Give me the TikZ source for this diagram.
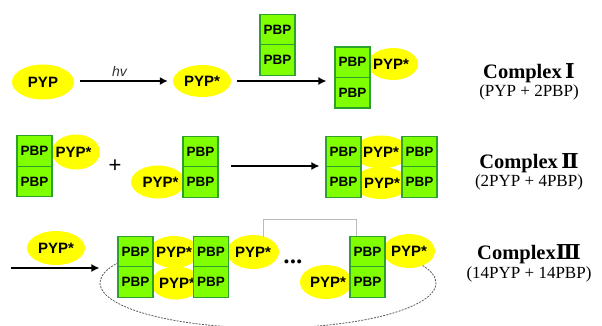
\documentclass[tikz,border=0pt]{standalone}
\usepackage{fontspec}
\setmainfont{Liberation Serif}
\setsansfont{Liberation Sans}
\newfontfamily\numfont{DejaVu Serif}
\usetikzlibrary{shapes.geometric,arrows.meta,calc}
\definecolor{pbpfill}{HTML}{80FF00}
\definecolor{pbpedge}{HTML}{2EA02E}
\definecolor{pypfill}{HTML}{FFFF00}
\definecolor{bracketgray}{HTML}{BBBBBB}
\begin{document}
\begin{tikzpicture}[x=1pt,y=-1pt,
  pbp/.style={rectangle, draw=pbpedge, line width=1.2pt, fill=pbpfill,
    minimum width=35pt, minimum height=30.5pt, inner sep=0pt,
    font=\sffamily\bfseries\fontsize{13.5}{15}\selectfont},
  pyp/.style={ellipse, fill=pypfill, inner sep=0pt,
    font=\sffamily\bfseries\fontsize{15}{16}\selectfont},
  arr/.style={-{Latex[length=8pt,width=8pt]}, line width=1.3pt},
  title/.style={anchor=base, font=\bfseries\fontsize{20.5}{24}\selectfont},
  subtitle/.style={anchor=base, font=\fontsize{17}{20}\selectfont},
]
\useasboundingbox (0,0) rectangle (602,325);

% ---------- dashed loop (behind) ----------
\coordinate (loopc) at (268,283);
\draw[gray!70!black, line width=0.8pt, dash pattern=on 2pt off 1.2pt]
  ($(loopc)+(153:168pt and 45pt)$) arc[start angle=153, end angle=385, x radius=168pt, y radius=45pt];

% ---------- Row 1 ----------
\node[pyp, minimum width=62pt, minimum height=35pt] (p1) at (43,82) {\makebox[0pt]{PYP}};
\node[pyp, minimum width=58pt, minimum height=32pt] (p2) at (202,81) {\makebox[0pt]{PYP*}};
\node[pbp] (f1) at (277.5,29.5) {PBP};
\node[pbp] (f2) at (277.5,60) {PBP};
\node[pyp, minimum width=50pt, minimum height=32pt] (c1y) at (393,64) {\makebox[0pt]{\hspace*{-4pt}PYP*}};
\node[pbp] (c1a) at (352.5,62.25) {PBP};
\node[pbp] (c1b) at (352.5,92.75) {PBP};

\draw[arr, shorten <=6pt, shorten >=5pt] (p1.east |- p2.west) -- (p2.west)
  node[midway, above=1pt, xshift=-4pt, font=\sffamily\itshape\fontsize{14}{16}\selectfont, text=black!80] (hv) {hv};
\draw[arr, shorten <=6pt, shorten >=8pt] (p2.east) -- (p2.east -| c1a.west);

% ---------- Row 2 ----------
\node[pyp, minimum width=48pt, minimum height=35pt] (l2y) at (76,152) {\makebox[0pt]{\hspace*{-5pt}PYP*}};
\node[pbp] (l2a) at (34.5,151) {PBP};
\node[pbp] (l2b) at (34.5,181.5) {PBP};
\node[font=\sffamily\fontsize{22}{22}\selectfont] (plus) at (115,166) {+};
\node[pyp, minimum width=54pt, minimum height=33pt] (m2y) at (158,182) {\makebox[0pt]{\hspace*{5pt}PYP*}};
\node[pbp] (m2a) at (200.5,151.5) {PBP};
\node[pbp] (m2b) at (200.5,182) {PBP};

\node[pyp, minimum width=56pt, minimum height=33pt] (r2y1) at (381,152) {\makebox[0pt]{PYP*}};
\node[pyp, minimum width=56pt, minimum height=32pt] (r2y2) at (381,183) {\makebox[0pt]{\hspace*{2pt}PYP*}};
\node[pbp] (r2a) at (343.5,151.5) {PBP};
\node[pbp] (r2b) at (343.5,182) {PBP};
\node[pbp] (r2c) at (419.5,151.5) {PBP};
\node[pbp] (r2d) at (419.5,182) {PBP};
\draw[arr, shorten <=12pt, shorten >=6pt] (m2a.east |- plus) -- (r2a.west |- plus);

% ---------- Row 3 ----------
\node[pyp, minimum width=58pt, minimum height=34pt] (q0) at (56,248) {\makebox[0pt]{PYP*}};
\coordinate (a3s) at (11,268);
\node[pyp, minimum width=50pt, minimum height=32pt] (e1a) at (174,252) {\makebox[0pt]{PYP*}};
\node[pyp, minimum width=50pt, minimum height=33pt] (e1b) at (176,283) {\makebox[0pt]{\hspace*{2pt}PYP*}};
\node[pyp, minimum width=52pt, minimum height=34pt] (e2) at (253,252) {\makebox[0pt]{PYP*}};
\node[pyp, minimum width=52pt, minimum height=34pt] (e3) at (326,282) {\makebox[0pt]{\hspace*{4pt}PYP*}};
\node[pyp, minimum width=52pt, minimum height=34pt] (e4) at (409,251) {\makebox[0pt]{PYP*}};
\node[pbp] (s1a) at (135.5,252) {PBP};
\node[pbp] (s1b) at (135.5,282) {PBP};
\node[pbp] (s2a) at (211,252) {PBP};
\node[pbp] (s2b) at (211,282) {PBP};
\node[pbp] (s3a) at (367.5,251.5) {PBP};
\node[pbp] (s3b) at (367.5,282) {PBP};
\node[font=\sffamily\bfseries\fontsize{14}{14}\selectfont, inner sep=0pt] (dots) at (293,263) {\textbullet\hspace{1.5pt}\textbullet\hspace{1.5pt}\textbullet};

\draw[bracketgray, line width=0.8pt] ($(e2.north)+(10,2)$) |- ($(s3a.north)+(-11.5,-16)$) -- ($(s3a.north)+(-11.5,0)$);
\draw[arr, shorten >=18pt] (a3s) -- (a3s -| s1a.west);

% ---------- Labels ----------
\node[title] (t1) at (529,78.5) {Complex\,{\numfont Ⅰ}};
\node[subtitle] (t1s) at (529,96) {(PYP + 2PBP)};
\node[title] (t2) at (529,168.5) {Complex\,{\numfont Ⅱ}};
\node[subtitle] (t2s) at (529,186) {(2PYP + 4PBP)};
\node[title] (t3) at (529,259.5) {Complex{\numfont Ⅲ}};
\node[subtitle] (t3s) at (529,278) {(14PYP + 14PBP)};
\end{tikzpicture}
\end{document}
